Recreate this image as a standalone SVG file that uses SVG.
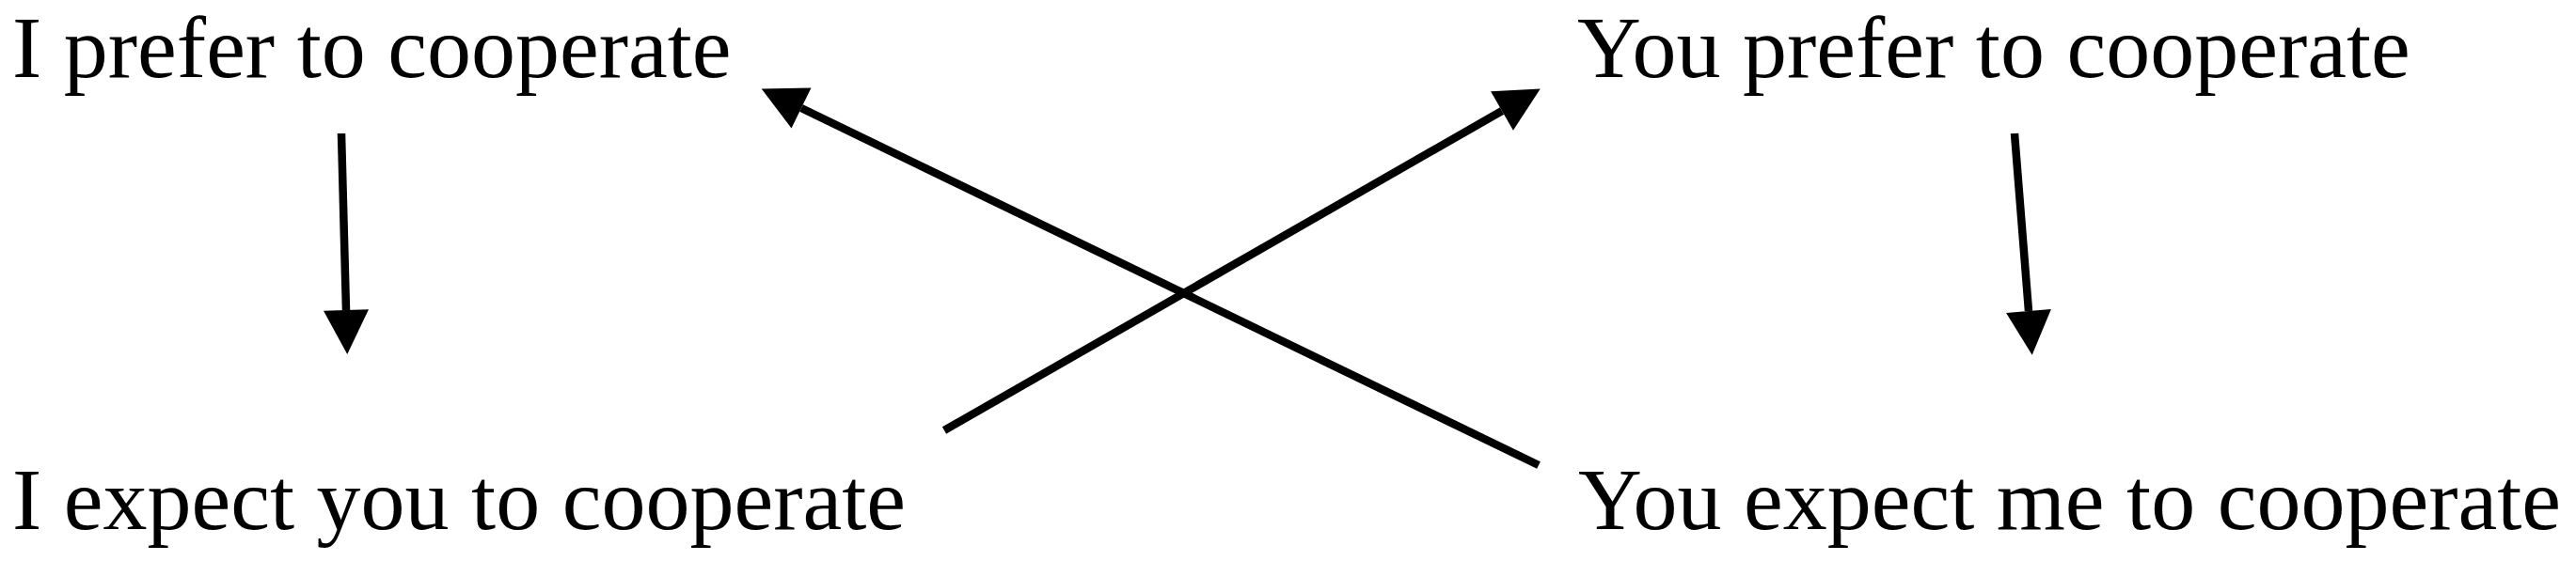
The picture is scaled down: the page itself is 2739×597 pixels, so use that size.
<svg xmlns="http://www.w3.org/2000/svg" width="2739" height="597" viewBox="0 0 2739 597">
<style>
.lbl{font-family:"Liberation Serif","Times New Roman",serif;font-size:94px;fill:#000}
.edge{stroke:#000;stroke-width:8.5;fill:none;stroke-linecap:butt;marker-end:url(#ah)}
</style>
<defs>
<marker id="ah" markerUnits="userSpaceOnUse" viewBox="0 -25 48 50" refX="0" refY="0" markerWidth="48" markerHeight="50" orient="auto" overflow="visible">
<path d="M0,-24 L47,0 L0,24 Z" fill="#000"/>
</marker>
</defs>
<rect width="2739" height="597" fill="#fff"/>
<g id="n-i-prefer"><text class="lbl" x="13" y="82">I prefer to cooperate</text></g>
<g id="n-you-prefer"><text class="lbl" x="1677" y="82">You prefer to cooperate</text></g>
<g id="n-i-expect"><text class="lbl" x="13" y="563">I expect you to cooperate</text></g>
<g id="n-you-expect"><text class="lbl" x="1678" y="563">You expect me to cooperate</text></g>
<g id="connectors">
<line class="edge" x1="363" y1="142" x2="368" y2="330"/>
<line class="edge" x1="2142" y1="142" x2="2157" y2="331"/>
<line class="edge" x1="1636" y1="495" x2="852" y2="115"/>
<line class="edge" x1="1004" y1="458" x2="1597" y2="118"/>
</g>
</svg>
